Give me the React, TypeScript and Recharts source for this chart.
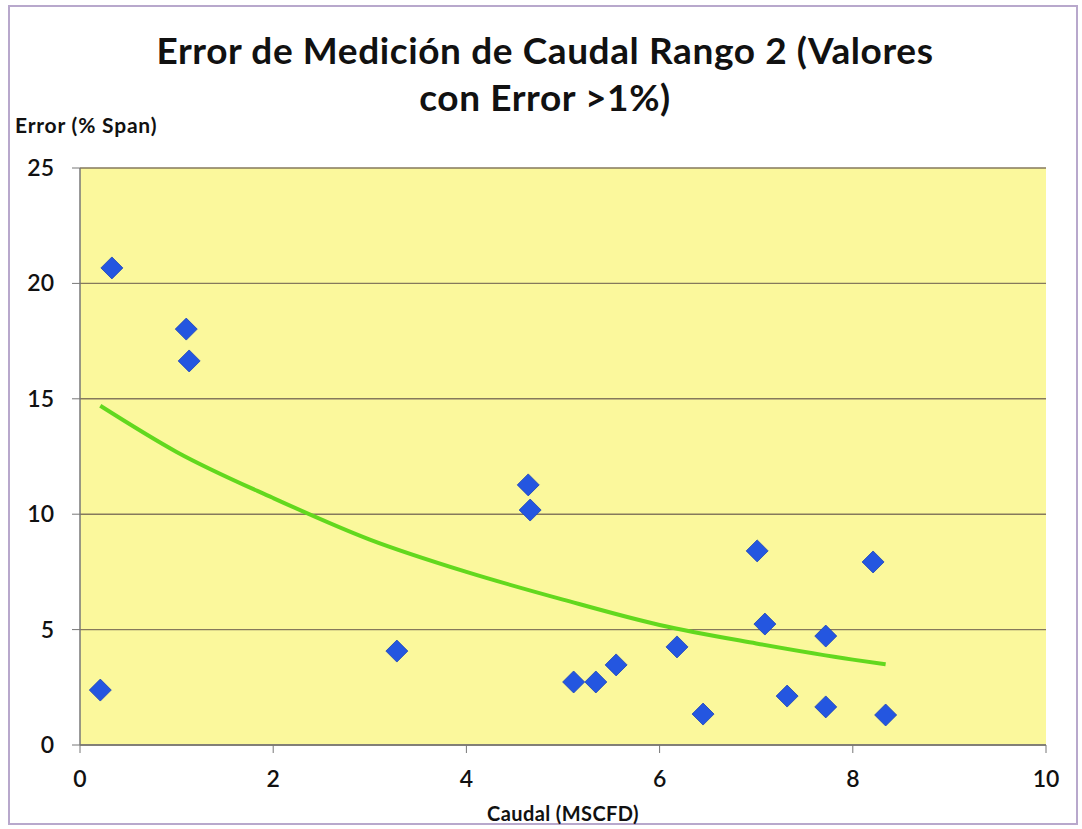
import React from "react";
import {
  ComposedChart,
  Scatter,
  Line,
  XAxis,
  YAxis,
  CartesianGrid,
} from "recharts";

const caudal = [0.21, 0.33, 1.1, 1.13, 3.28, 4.64, 4.66, 5.11, 5.34, 5.55, 6.18, 6.45, 7.01, 7.09, 7.32, 7.72, 7.72, 8.21, 8.34];
const errorPct = [2.38, 20.67, 18.02, 16.64, 4.07, 11.27, 10.18, 2.73, 2.73, 3.47, 4.25, 1.34, 8.41, 5.24, 2.12, 4.72, 1.65, 7.93, 1.3];

const trendX = [0.21, 1, 2, 3, 4, 5, 6, 7, 8, 8.34];
const trendY = [14.7, 12.7, 10.7, 8.9, 7.5, 6.3, 5.2, 4.4, 3.7, 3.5];

const xTicks = [0, 2, 4, 6, 8, 10];
const yTicks = [0, 5, 10, 15, 20, 25];

const points = caudal.map((x, i) => ({ x, y: errorPct[i] }));
const trend = trendX.map((x, i) => ({ x, t: trendY[i] }));

const FONT = "Lato, 'Open Sans', sans-serif";

const Diamond = (props: any) => {
  const { cx, cy } = props;
  if (cx == null || cy == null) return null;
  const r = 11;
  return (
    <polygon
      points={`${cx},${cy - r} ${cx + r},${cy} ${cx},${cy + r} ${cx - r},${cy}`}
      fill="#2456e0"
      stroke="#1c44b8"
      strokeWidth={0.8}
    />
  );
};

const XTick = (props: any) => {
  const { x, y, payload } = props;
  return (
    <text x={x} y={y + 32} textAnchor="middle" fill="#111" fontSize={23} fontFamily={FONT} fontWeight={600}>
      {payload.value}
    </text>
  );
};

const YTick = (props: any) => {
  const { x, y, payload } = props;
  return (
    <text x={x - 16} y={y + 8} textAnchor="end" fill="#111" fontSize={23} fontFamily={FONT} fontWeight={600}>
      {payload.value}
    </text>
  );
};

export default function App() {
  return (
    <div
      style={{
        position: "absolute",
        left: 0,
        top: 0,
        width: 1082,
        height: 829,
        background: "#ffffff",
        fontFamily: FONT,
      }}
    >
      <div
        style={{
          position: "absolute",
          left: 8,
          top: 5,
          width: 1070,
          height: 820,
          border: "2px solid #b8a8cc",
          boxSizing: "border-box",
        }}
      />
      <div
        style={{
          position: "absolute",
          left: 0,
          top: 26,
          width: 1090,
          textAlign: "center",
          fontWeight: 700,
          fontSize: 37,
          letterSpacing: 0.6,
          lineHeight: "47px",
          color: "#111",
        }}
      >
        Error de Medición de Caudal Rango 2 (Valores
        <br />
        con Error &gt;1%)
      </div>
      <div
        style={{
          position: "absolute",
          left: 15,
          top: 112,
          fontWeight: 700,
          fontSize: 21,
          letterSpacing: 0.8,
          color: "#111",
        }}
      >
        Error (% Span)
      </div>
      <div
        style={{
          position: "absolute",
          left: 0,
          top: 801,
          width: 1126,
          textAlign: "center",
          fontWeight: 700,
          fontSize: 20,
          letterSpacing: 0.4,
          color: "#111",
        }}
      >
        Caudal (MSCFD)
      </div>
      <div style={{ position: "absolute", left: 0, top: 0 }}>
        <ComposedChart
          width={1082}
          height={829}
          margin={{ top: 168, right: 36, bottom: 0, left: 0 }}
        >
          <CartesianGrid
            vertical={false}
            horizontal={true}
            stroke="#85795c"
            strokeWidth={1.4}
            fill="#fbf89c"
          />
          <XAxis
            type="number"
            dataKey="x"
            domain={[0, 10]}
            ticks={xTicks}
            height={84}
            axisLine={{ stroke: "#777", strokeWidth: 1.5 }}
            tickLine={{ stroke: "#777" }}
            tickSize={8}
            tick={<XTick />}
            allowDataOverflow
          />
          <YAxis
            type="number"
            dataKey="y"
            domain={[0, 25]}
            ticks={yTicks}
            width={80}
            axisLine={{ stroke: "#777", strokeWidth: 1.5 }}
            tickLine={{ stroke: "#777" }}
            tickSize={8}
            tick={<YTick />}
            allowDataOverflow
          />
          <Line
            data={trend}
            dataKey="t"
            type="monotone"
            stroke="#62d81e"
            strokeWidth={4}
            dot={false}
            isAnimationActive={false}
            legendType="none"
          />
          <Scatter
            data={points}
            dataKey="y"
            shape={<Diamond />}
            isAnimationActive={false}
          />
        </ComposedChart>
      </div>
    </div>
  );
}
